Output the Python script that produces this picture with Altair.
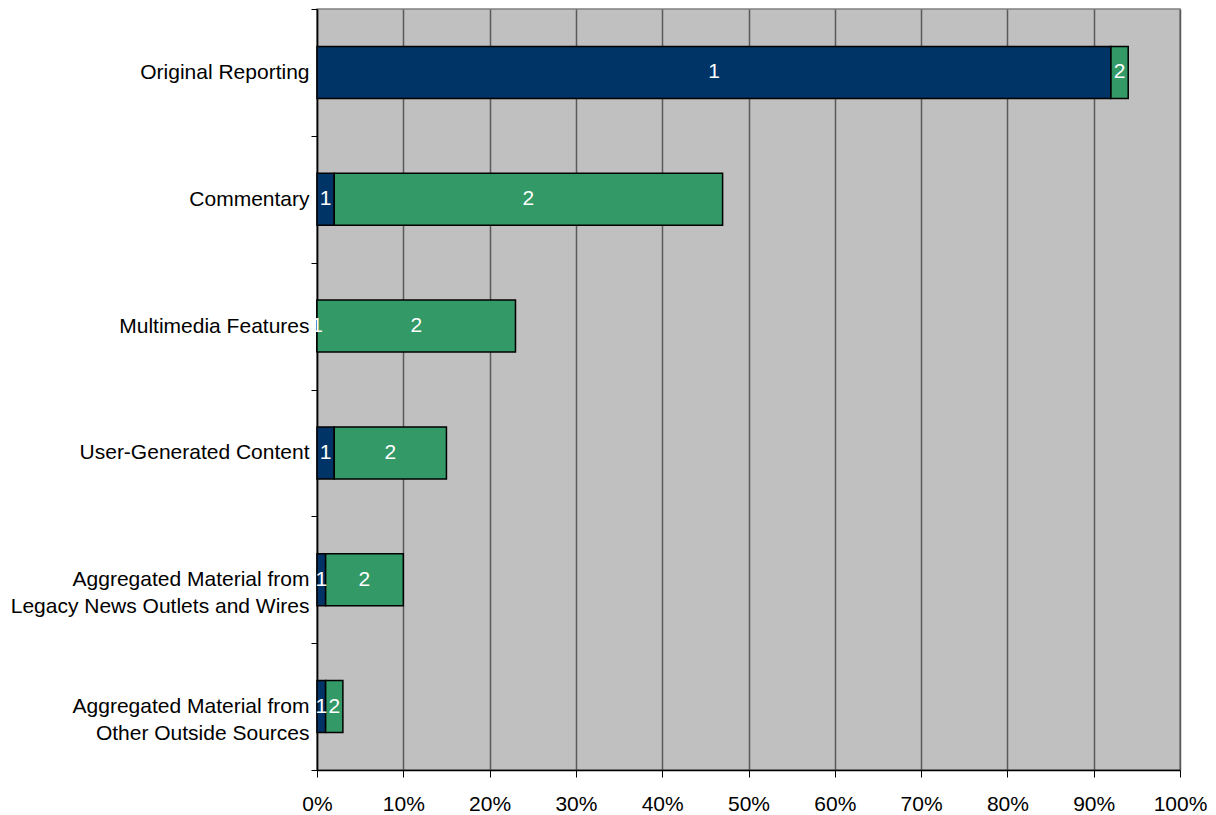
import altair as alt
import pandas as pd

categories = [
    "Original Reporting",
    "Commentary",
    "Multimedia Features",
    "User-Generated Content",
    "Aggregated Material from|Legacy News Outlets and Wires",
    "Aggregated Material from|Other Outside Sources",
]
series_names = ["1", "2"]
series1 = [92, 2, 0, 2, 1, 1]
series2 = [2, 45, 23, 13, 9, 2]
colors = ["#003366", "#339966"]
x_ticks = [0, 10, 20, 30, 40, 50, 60, 70, 80, 90, 100]

rows = []
for i, c in enumerate(categories):
    rows.append({"cat": c, "series": series_names[0], "value": series1[i], "ord": 0})
    rows.append({"cat": c, "series": series_names[1], "value": series2[i], "ord": 1})
df = pd.DataFrame(rows)

FONT = "Liberation Sans"

base = alt.Chart(df).transform_stack(
    stack="value",
    groupby=["cat"],
    as_=["start", "end"],
    sort=[alt.SortField("ord", order="ascending")],
).transform_calculate(mid="(datum.start + datum.end) / 2")

y_scale = alt.Scale(paddingInner=0, paddingOuter=0)

y_enc = alt.Y(
    "cat:N",
    sort=categories,
    scale=y_scale,
    axis=alt.Axis(
        title=None,
        labelExpr="split(datum.label, '|')",
        tickBand="extent",
        labelFont=FONT,
        labelFontSize=21,
        labelColor="black",
        labelLineHeight=27,
        labelPadding=2,
        labelLimit=400,
        tickSize=6,
        tickColor="black",
        domainColor="black",
        domainWidth=1.5,
        grid=False,
    ),
)

x_scale = alt.Scale(domain=[0, 100], nice=False)

bars = base.mark_bar(stroke="black", strokeWidth=1.5, height={"band": 0.41}).encode(
    x=alt.X(
        "start:Q",
        scale=x_scale,
        axis=alt.Axis(
            title=None,
            values=x_ticks,
            labelExpr="datum.value + '%'",
            labelFont=FONT,
            labelFontSize=21,
            labelColor="black",
            labelPadding=16,
            tickSize=7,
            tickColor="black",
            domainColor="black",
            domainWidth=1.5,
            grid=True,
            gridColor="#5a5a5a",
            gridWidth=1.5,
            labelFlush=False,
        ),
    ),
    x2="end:Q",
    y=y_enc,
    color=alt.Color(
        "series:N",
        scale=alt.Scale(domain=series_names, range=colors),
        legend=None,
    ),
    order=alt.Order("ord:Q"),
)

labels = base.mark_text(color="white", font=FONT, fontSize=21, baseline="middle").encode(
    x=alt.X("mid:Q", scale=x_scale),
    y=alt.Y("cat:N", sort=categories, scale=y_scale),
    text="series:N",
)

chart = (
    alt.layer(bars, labels)
    .properties(
        width=863,
        height=761,
        autosize=alt.AutoSizeParams(type="none"),
        padding={"left": 309, "top": 1, "right": 28, "bottom": 45},
        background="white",
    )
    .configure_view(fill="#C0C0C0", stroke="#808080", strokeWidth=1.5)
)

chart.save("out.html", embed_options={"renderer": "svg", "actions": False})
